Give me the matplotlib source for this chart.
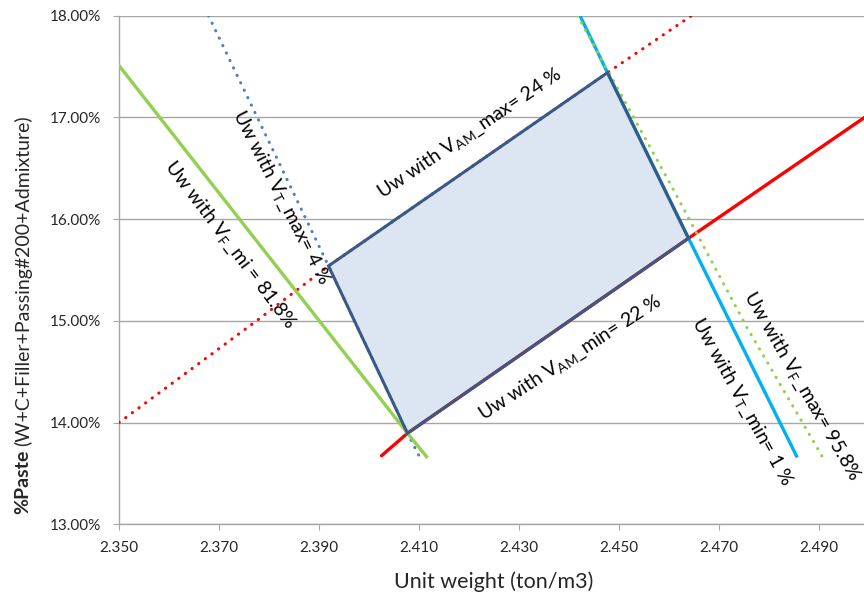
import numpy as np
import matplotlib
matplotlib.use("Agg")
import matplotlib.pyplot as plt

plt.rcParams['font.family'] = ['Lato', 'DejaVu Sans']
plt.rcParams['mathtext.fontset'] = 'custom'
plt.rcParams['mathtext.rm'] = 'Lato'
plt.rcParams['mathtext.it'] = 'Lato:italic'
plt.rcParams['mathtext.bf'] = 'Lato:bold'

# ---- data (unit weight in ton/m3, paste in %) ----
vam_max_x = [2.350, 2.3775, 2.3919, 2.4477, 2.4645]
vam_max_y = [14.00, 15.00, 15.54, 17.44, 18.00]

vam_min_x = [2.4025, 2.4077, 2.4639, 2.5000]
vam_min_y = [13.674, 13.895, 15.812, 17.03]

vt_max_x = [2.3679, 2.3919, 2.4077, 2.4101]
vt_max_y = [18.00, 15.54, 13.895, 13.665]

vf_min_x = [2.350, 2.4077, 2.4115]
vf_min_y = [17.51, 13.895, 13.665]

vt_min_x = [2.4422, 2.4477, 2.4639, 2.4855]
vt_min_y = [18.00, 17.44, 15.812, 13.672]

vf_max_x = [2.4417, 2.4602, 2.4755, 2.4907]
vf_max_y = [18.00, 16.352, 14.943, 13.662]

box_x = [2.3919, 2.4477, 2.4639, 2.4077]
box_y = [15.54, 17.44, 15.812, 13.895]

x_ticks = [2.350, 2.370, 2.390, 2.410, 2.430, 2.450, 2.470, 2.490]
y_ticks = [13, 14, 15, 16, 17, 18]

fig = plt.figure(figsize=(8.64, 5.92), dpi=100)
ax = fig.add_axes([119/864, 1-524.3/592, 745/864, (524.3-15.7)/592])
ax.set_xlim(2.350, 2.499)
ax.set_ylim(13, 18)

dot = (0, (0.1, 2.6))
ax.fill(box_x, box_y, facecolor='#DCE6F2', edgecolor='none', zorder=2)
ax.plot(vam_max_x, vam_max_y, color='#FF0000', lw=2.2, linestyle=dot, dash_capstyle='round', zorder=3)
ax.plot(vam_min_x, vam_min_y, color='#FF0000', lw=2.4, zorder=3, solid_capstyle='round')
ax.plot(vt_max_x, vt_max_y, color='#4F81BD', lw=2.2, linestyle=dot, dash_capstyle='round', zorder=3)
ax.plot(vf_min_x, vf_min_y, color='#92D050', lw=2.4, zorder=3)
ax.plot(vt_min_x, vt_min_y, color='#00B0F0', lw=2.4, zorder=3)
ax.plot(vf_max_x, vf_max_y, color='#92D050', lw=2.2, linestyle=dot, dash_capstyle='round', zorder=3)
ax.fill(box_x, box_y, facecolor='none', edgecolor='#3A5A86', lw=2.2, joinstyle='miter', zorder=4)

ax.set_xticks(x_ticks)
ax.set_xticklabels([f"{v:.3f}" for v in x_ticks])
ax.set_yticks(y_ticks)
ax.set_yticklabels([f"{v:.2f}%" for v in y_ticks])
ax.grid(axis='y', color='#A6A6A6', lw=1.0, zorder=0)
ax.set_axisbelow(True)
for s in ['top', 'right']:
    ax.spines[s].set_visible(False)
for s in ['left', 'bottom']:
    ax.spines[s].set_color('#A6A6A6')
    ax.spines[s].set_linewidth(1.0)
ax.tick_params(axis='both', direction='out', length=4, color='#A6A6A6', labelsize=11, labelcolor='#262626')
ax.tick_params(axis='x', pad=8)
ax.tick_params(axis='y', pad=9)

fig.text(494/864, 1-582/592, 'Unit weight (ton/m3)', ha='center', va='center', fontsize=15.5, color='#262626')
fig.text(23/864, 1-514/592, '%Paste', rotation=90, ha='center', va='bottom', fontsize=14, fontweight='bold', color='#262626')
fig.text(23/864, 1-446/592, '(W+C+Filler+Passing#200+Admixture)', rotation=90, ha='center', va='bottom', fontsize=14, color='#262626')

tk = dict(ha='center', va='center', rotation_mode='anchor', fontsize=14, color='black', clip_on=False, zorder=5)
ax.text(2.4202, 16.84, r'Uw with V$_{\mathrm{AM}}$_max= 24 %', rotation=34, **tk)
ax.text(2.4402, 14.635, r'Uw with V$_{\mathrm{AM}}$_min= 22 %', rotation=33, **tk)
ax.text(2.3824, 16.218, r'Uw with V$_{\mathrm{T}}$_max= 4 %', rotation=-63, **tk)
ax.text(2.3722, 15.746, r'Uw with V$_{\mathrm{F}}$_mi = 81.8%', rotation=-53, **tk)
ax.text(2.4745, 14.205, r'Uw with V$_{\mathrm{T}}$_min= 1 %', rotation=-61, **tk)
ax.text(2.4866, 14.36, r'Uw with V$_{\mathrm{F}}$_max= 95.8%', rotation=-60, **tk)

fig.savefig('out.png', dpi=100)
